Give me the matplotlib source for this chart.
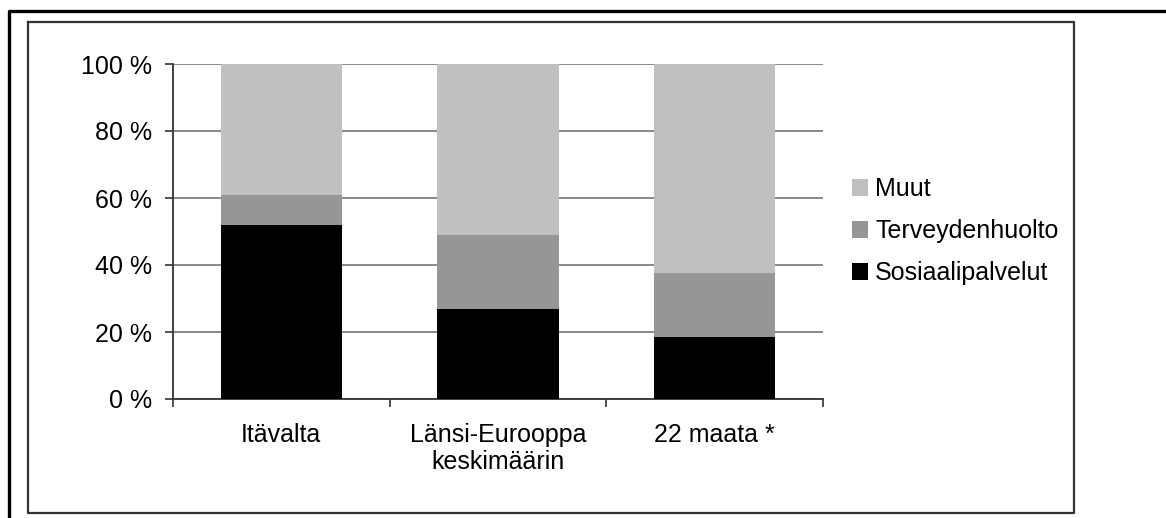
import numpy as np
import matplotlib
matplotlib.use("Agg")
import matplotlib.pyplot as plt
from matplotlib.lines import Line2D

plt.rcParams["font.family"] = ["Liberation Sans", "DejaVu Sans"]

categories = ["Itävalta", "Länsi-Eurooppa\nkeskimäärin", "22 maata *"]
sosiaalipalvelut = [52, 27, 18.5]
terveydenhuolto = [9, 22, 19]
muut = [39, 51, 62.5]

series = [
    ("Sosiaalipalvelut", sosiaalipalvelut, "#000000"),
    ("Terveydenhuolto", terveydenhuolto, "#969696"),
    ("Muut", muut, "#C0C0C0"),
]
yticks = [0, 20, 40, 60, 80, 100]

W, H = 1166, 518
FONT = 18


def px_box(x0, y0, x1, y1):
    # pixel box (top-left origin) -> figure fraction [left, bottom, width, height]
    return [x0 / W, 1 - y1 / H, (x1 - x0) / W, (y1 - y0) / H]


fig = plt.figure(figsize=(W / 100, H / 100), dpi=100)
ax = fig.add_axes(px_box(173, 64, 823, 399))

x = np.arange(len(categories))
bottom = np.zeros(len(categories))
handles = []
for name, vals, color in series:
    vals = np.asarray(vals, dtype=float)
    bars = ax.bar(x, vals, bottom=bottom, width=0.56, color=color,
                  label=name, zorder=3)
    handles.append(bars)
    bottom += vals

ax.set_xlim(-0.5, len(categories) - 0.5)
ax.set_ylim(0, 100)
ax.set_yticks(yticks)
ax.set_yticklabels([f"{v} %" for v in yticks], fontsize=FONT)
ax.yaxis.grid(True, color="#808080", linewidth=1.3, zorder=0)
ax.set_axisbelow(True)

# category boundary ticks, labels centred under bars
ax.set_xticks(np.arange(len(categories) + 1) - 0.5)
ax.set_xticklabels([])
ax.set_xticks(x, minor=True)
ax.set_xticklabels(categories, minor=True, fontsize=FONT, linespacing=1.2)
ax.tick_params(axis="x", which="minor", length=0, pad=17)
ax.tick_params(axis="x", which="major", length=6, width=1.2, color="#333333")
ax.tick_params(axis="y", length=6, width=1.2, color="#333333", pad=9)

for side in ["top", "right"]:
    ax.spines[side].set_visible(False)
for side in ["left", "bottom"]:
    ax.spines[side].set_color("#333333")
    ax.spines[side].set_linewidth(1.3)

leg = fig.legend(handles[::-1], [s[0] for s in series][::-1],
                 loc="center left", bbox_to_anchor=(829 / W, 1 - 231 / H),
                 frameon=False, fontsize=FONT, handlelength=0.65,
                 handleheight=0.65, handletextpad=0.3, labelspacing=0.72)

# chart area frame and outer frame
x0, y0, x1, y1 = 28, 22, 1074, 513
fig.add_artist(Line2D([x0 / W, x1 / W, x1 / W, x0 / W, x0 / W],
                      [1 - y0 / H, 1 - y0 / H, 1 - y1 / H, 1 - y1 / H, 1 - y0 / H],
                      transform=fig.transFigure, color="#333333", linewidth=1.6))
fig.add_artist(Line2D([9 / W, 9 / W, 1.0],
                      [0.0, 1 - 11 / H, 1 - 11 / H],
                      transform=fig.transFigure, color="#000000", linewidth=2.4))

fig.savefig("out.png", dpi=100)
